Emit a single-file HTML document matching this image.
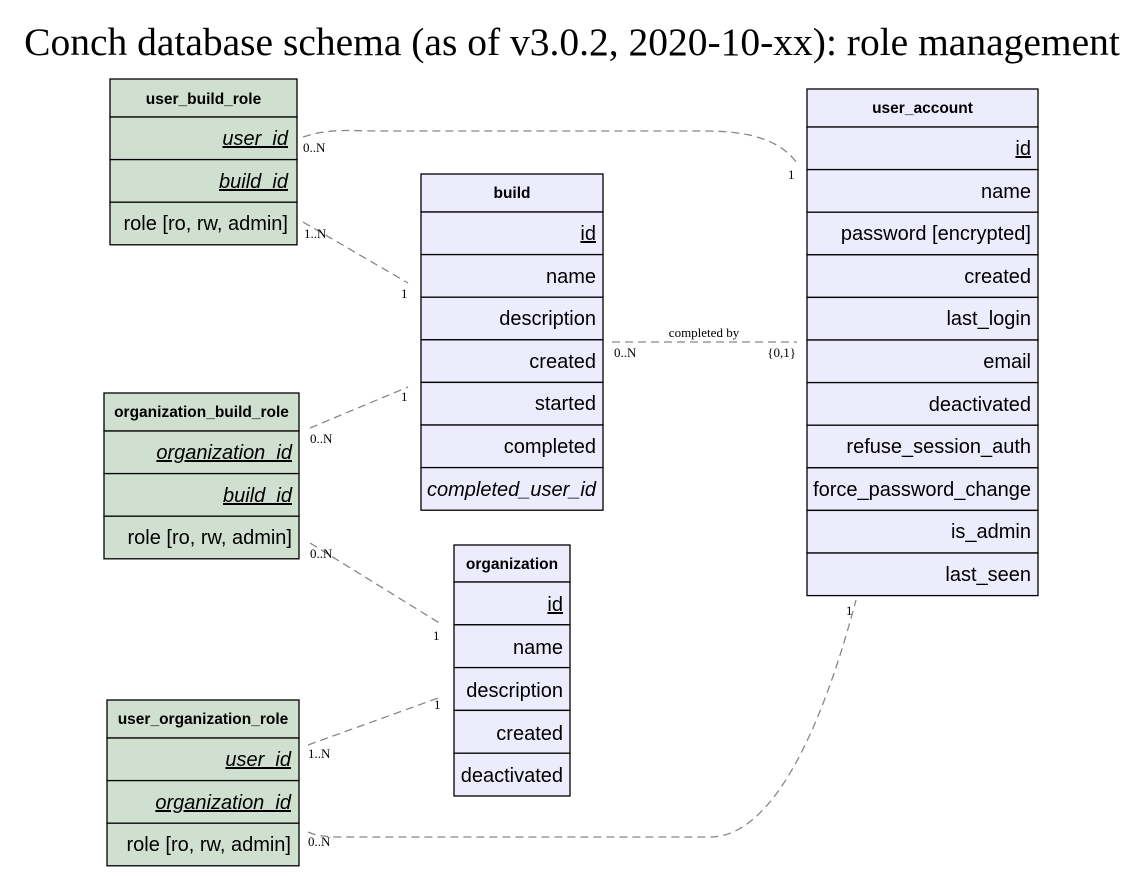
<!DOCTYPE html>
<html><head><meta charset="utf-8"><style>
html,body{margin:0;padding:0;background:#fff;}
svg{display:block}
.h{font:bold 15.5px "Liberation Sans",sans-serif;text-anchor:middle}
.r{font:20px "Liberation Sans",sans-serif;text-anchor:end}
.i{font-style:italic}
.l{font:13px "Liberation Serif",serif}
.e{fill:none;stroke:#888;stroke-width:1.3;stroke-dasharray:8,5}
.g rect{fill:#d0e0d0;stroke:#000;stroke-width:1.3}
.p rect{fill:#ececfc;stroke:#000;stroke-width:1.3}
</style></head><body>
<svg width="1143" height="876" viewBox="0 0 1143 876" xmlns="http://www.w3.org/2000/svg">
<text x="572" y="55" style="font:39.5px 'Liberation Serif',serif;text-anchor:middle">Conch database schema (as of v3.0.2, 2020-10-xx): role management</text>

<!-- edges -->
<path class="e" d="M303,137 C330,128 350,131 380,131 L705,131 C750,131 780,140 797,163"/>
<path class="e" d="M303,222 L408,283"/>
<path class="e" d="M612,342 L797,342"/>
<path class="e" d="M310,428 L408,387"/>
<path class="e" d="M310,543 L441,624"/>
<path class="e" d="M308,745 L441,697"/>
<path class="e" d="M308,832 C320,838 340,837 360,837 L710,837 C790,837 840,660 856,600"/>

<g class="l">
<text x="303" y="152">0..N</text><text x="788" y="179">1</text>
<text x="304" y="238">1..N</text><text x="401" y="298">1</text>
<text x="704" y="337" text-anchor="middle">completed by</text>
<text x="614" y="357">0..N</text><text x="796" y="357" text-anchor="end">{0,1}</text>
<text x="310" y="443">0..N</text><text x="401" y="401">1</text>
<text x="310" y="558">0..N</text><text x="433" y="640">1</text>
<text x="308" y="758">1..N</text><text x="434" y="709">1</text>
<text x="308" y="846">0..N</text><text x="846" y="615">1</text>
</g>

<g class="g">
<rect x="110" y="79" width="187" height="38"/>
<rect x="110" y="117" width="187" height="42.6"/>
<rect x="110" y="159.6" width="187" height="42.6"/>
<rect x="110" y="202.2" width="187" height="42.6"/>
<text class="h" x="203.5" y="104">user_build_role</text>
<text class="r i" x="288" y="145" text-decoration="underline">user_id</text>
<text class="r i" x="288" y="188" text-decoration="underline">build_id</text>
<text class="r" x="288" y="230">role [ro, rw, admin]</text>
</g>

<g class="g">
<rect x="104" y="393" width="195" height="38"/>
<rect x="104" y="431" width="195" height="42.6"/>
<rect x="104" y="473.6" width="195" height="42.6"/>
<rect x="104" y="516.2" width="195" height="42.6"/>
<text class="h" x="201.5" y="417">organization_build_role</text>
<text class="r i" x="292" y="459" text-decoration="underline">organization_id</text>
<text class="r i" x="292" y="502" text-decoration="underline">build_id</text>
<text class="r" x="292" y="544">role [ro, rw, admin]</text>
</g>

<g class="g">
<rect x="107" y="700" width="192" height="38"/>
<rect x="107" y="738" width="192" height="42.6"/>
<rect x="107" y="780.6" width="192" height="42.6"/>
<rect x="107" y="823.2" width="192" height="42.6"/>
<text class="h" x="203" y="724">user_organization_role</text>
<text class="r i" x="291" y="766" text-decoration="underline">user_id</text>
<text class="r i" x="291" y="809" text-decoration="underline">organization_id</text>
<text class="r" x="291" y="851">role [ro, rw, admin]</text>
</g>

<g class="p">
<rect x="421" y="174" width="182" height="38"/>
<rect x="421" y="212" width="182" height="42.6"/>
<rect x="421" y="254.6" width="182" height="42.6"/>
<rect x="421" y="297.2" width="182" height="42.6"/>
<rect x="421" y="339.8" width="182" height="42.6"/>
<rect x="421" y="382.4" width="182" height="42.6"/>
<rect x="421" y="425" width="182" height="42.6"/>
<rect x="421" y="467.6" width="182" height="42.6"/>
<text class="h" x="512" y="198">build</text>
<text class="r" x="596" y="240" text-decoration="underline">id</text>
<text class="r" x="596" y="283">name</text>
<text class="r" x="596" y="325">description</text>
<text class="r" x="596" y="368">created</text>
<text class="r" x="596" y="410">started</text>
<text class="r" x="596" y="453">completed</text>
<text class="r i" x="596" y="496">completed_user_id</text>
</g>

<g class="p">
<rect x="454" y="545" width="116" height="37"/>
<rect x="454" y="582" width="116" height="42.8"/>
<rect x="454" y="624.8" width="116" height="42.8"/>
<rect x="454" y="667.6" width="116" height="42.8"/>
<rect x="454" y="710.4" width="116" height="42.8"/>
<rect x="454" y="753.2" width="116" height="42.8"/>
<text class="h" x="512" y="569">organization</text>
<text class="r" x="563" y="611" text-decoration="underline">id</text>
<text class="r" x="563" y="654">name</text>
<text class="r" x="563" y="697">description</text>
<text class="r" x="563" y="740">created</text>
<text class="r" x="563" y="782">deactivated</text>
</g>

<g class="p">
<rect x="807" y="89" width="231" height="38"/>
<rect x="807" y="127" width="231" height="42.6"/>
<rect x="807" y="169.6" width="231" height="42.6"/>
<rect x="807" y="212.2" width="231" height="42.6"/>
<rect x="807" y="254.8" width="231" height="42.6"/>
<rect x="807" y="297.4" width="231" height="42.6"/>
<rect x="807" y="340" width="231" height="42.6"/>
<rect x="807" y="382.6" width="231" height="42.6"/>
<rect x="807" y="425.2" width="231" height="42.6"/>
<rect x="807" y="467.8" width="231" height="42.6"/>
<rect x="807" y="510.4" width="231" height="42.6"/>
<rect x="807" y="553" width="231" height="42.6"/>
<text class="h" x="922.5" y="113">user_account</text>
<text class="r" x="1031" y="155" text-decoration="underline">id</text>
<text class="r" x="1031" y="198">name</text>
<text class="r" x="1031" y="240">password [encrypted]</text>
<text class="r" x="1031" y="283">created</text>
<text class="r" x="1031" y="325">last_login</text>
<text class="r" x="1031" y="368">email</text>
<text class="r" x="1031" y="411">deactivated</text>
<text class="r" x="1031" y="453">refuse_session_auth</text>
<text class="r" x="1031" y="496">force_password_change</text>
<text class="r" x="1031" y="538">is_admin</text>
<text class="r" x="1031" y="581">last_seen</text>
</g>
</svg>
</body></html>
